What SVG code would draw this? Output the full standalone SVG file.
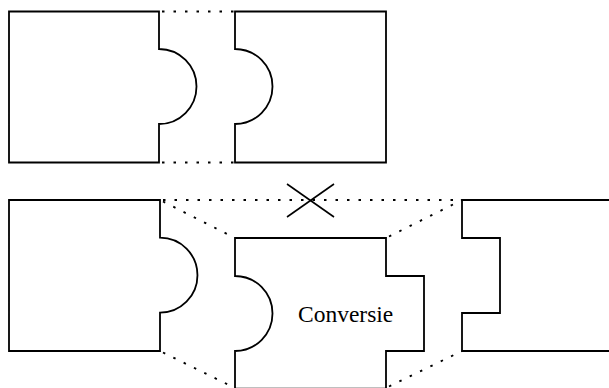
<svg xmlns="http://www.w3.org/2000/svg" width="609" height="388" viewBox="0 0 609 388">
  <style>
    .piece { fill: none; stroke: #000; stroke-width: 1.8; stroke-linejoin: miter; }
    .dot { fill: none; stroke: #000; stroke-width: 1.9; stroke-dasharray: 2.5 9; }
    .cross { stroke: #000; stroke-width: 1.6; }
    .label { font-size: 23.5px; fill: #000; }
  </style>
  <rect width="609" height="388" fill="#fff"/>

  <!-- connectors: dotted guide lines and the blocked link -->
  <g id="connectors">
    <path class="dot" d="M162,11.5 H235"/>
    <path class="dot" d="M162,162.5 H235"/>
    <path class="dot" d="M163,200 H462"/>
    <path class="dot" d="M163,201.5 L235,238"/>
    <path class="dot" d="M163,352.5 L235,388"/>
    <path class="dot" d="M389,236.5 L462,200"/>
    <path class="dot" d="M389,386.5 L462,351"/>
    <g id="blocked">
      <line class="cross" x1="287" y1="184" x2="334" y2="217"/>
      <line class="cross" x1="287" y1="217" x2="334" y2="184"/>
    </g>
  </g>

  <!-- top row: plug and socket -->
  <g id="plug-top">
    <path class="piece" d="M9,11.5 H159 V49 A37.5 37.5 0 0 1 159,124 V162.5 H9 Z"/>
  </g>
  <g id="socket-top">
    <path class="piece" d="M235,11.5 H386 V162.5 H235 V124 A37.5 37.5 0 0 0 235,49 Z"/>
  </g>

  <!-- bottom row: plug, converter, square socket -->
  <g id="plug-bottom">
    <path class="piece" d="M9,200 H160 V237.7 A37.5 37.5 0 0 1 160,312.7 V351 H9 Z"/>
  </g>
  <g id="converter">
    <path class="piece" d="M235,238 H386 V276 H424 V351 H386 V388.6 H235 V351 A37.5 37.5 0 0 0 235,276 Z"/>
    <text class="label" x="298" y="321.7" font-family="'Liberation Serif', 'Times New Roman', serif">Conversie</text>
  </g>
  <g id="socket-bottom">
    <path class="piece" d="M611,200 H462 V238 H500 V313 H462 V351 H611"/>
  </g>
</svg>
